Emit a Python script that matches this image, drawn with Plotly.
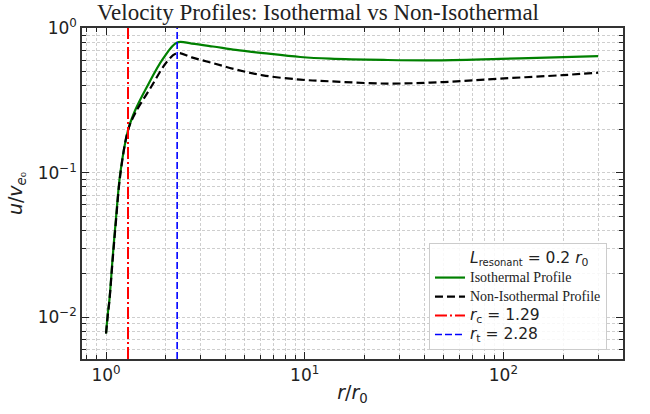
import numpy as np
import plotly.graph_objects as go

# ---- data ----
r_iso = [1.0, 1.02, 1.04, 1.08, 1.12, 1.18, 1.29, 1.40, 1.60, 1.94, 2.28,
         2.7, 3.45, 4.5, 6.17, 9.5, 13.4, 25, 44, 96, 200, 300]
u_iso = [0.0077, 0.0105, 0.0132, 0.026, 0.047, 0.10, 0.197, 0.27, 0.39, 0.62, 0.80,
         0.785, 0.75, 0.71, 0.675, 0.634, 0.617, 0.605, 0.601, 0.615, 0.632, 0.643]

r_non = [1.0, 1.02, 1.04, 1.08, 1.12, 1.18, 1.29, 1.40, 1.68, 2.03, 2.28,
         2.7, 3.45, 4.5, 6.17, 9.5, 13.4, 26, 50, 96, 200, 300]
u_non = [0.0077, 0.0102, 0.013, 0.025, 0.045, 0.097, 0.197, 0.258, 0.39, 0.59, 0.675,
         0.63, 0.575, 0.52, 0.473, 0.442, 0.43, 0.415, 0.425, 0.449, 0.475, 0.494]

r_c = 1.29
r_t = 2.28
L_res = 0.2

x_tickvals = [1, 10, 100]
x_ticktext = ["10<sup>0</sup>", "10<sup>1</sup>", "10<sup>2</sup>"]
y_tickvals = [0.01, 0.1, 1]
y_ticktext = ["10<sup>−2</sup>", "10<sup>−1</sup>", "10<sup>0</sup>"]

x_range = [-0.121, 2.602]
y_range = [-2.29, 0.003]

def minor_vals(lo, hi):
    out = []
    for d in range(int(np.floor(lo)) - 1, int(np.ceil(hi)) + 1):
        for k in range(2, 10):
            v = k * 10.0 ** d
            if lo <= np.log10(v) <= hi:
                out.append(v)
    return out

SERIF = "Liberation Serif"
SANS = "DejaVu Sans"

def sans(t, size=15.5):
    return f"<span style='font-family:{SANS};font-size:{size}px'>{t}</span>"

def serif(t, size=14):
    return f"<span style='font-family:{SERIF};font-size:{size}px'>{t}</span>"

fig = go.Figure()

fig.add_trace(go.Scatter(x=[None], y=[None], mode="lines",
                         line=dict(color="rgba(0,0,0,0)", width=2),
                         name=sans(f"<i>L</i><sub><span style='font-size:10px'>resonant</span></sub> = {L_res} <i>r</i><sub>0</sub>")))
fig.add_trace(go.Scatter(x=r_iso, y=u_iso, mode="lines", line_shape="spline",
                         line=dict(color="green", width=2.2),
                         name=serif("Isothermal Profile")))
fig.add_trace(go.Scatter(x=r_non, y=u_non, mode="lines", line_shape="spline",
                         line=dict(color="black", width=2.2, dash="8px,4px"),
                         name=serif("Non-Isothermal Profile")))
ylo, yhi = 10 ** y_range[0], 10 ** y_range[1]
fig.add_trace(go.Scatter(x=[r_c, r_c], y=[ylo, yhi], mode="lines",
                         line=dict(color="red", width=2, dash="12px,3px,2px,3px"),
                         name=sans(f"<i>r</i><sub>c</sub> = {r_c}")))
fig.add_trace(go.Scatter(x=[r_t, r_t], y=[ylo, yhi], mode="lines",
                         line=dict(color="blue", width=1.6, dash="7px,3px"),
                         name=sans(f"<i>r</i><sub>t</sub> = {r_t}")))

grid = "rgba(185,185,185,0.7)"
common = dict(type="log", showline=True, linecolor="#333", linewidth=1.5, mirror="allticks",
              ticks="inside", ticklen=7, tickwidth=1.3, tickcolor="#222",
              showgrid=True, gridcolor=grid, griddash="3px,2px", gridwidth=0.8,
              zeroline=False, automargin=False,
              tickfont=dict(family=SANS, size=17, color="#222"))

fig.update_xaxes(**common, range=x_range, tickvals=x_tickvals, ticktext=x_ticktext,
                 minor=dict(tickvals=minor_vals(*x_range), ticks="inside", ticklen=4,
                            tickcolor="#222", showgrid=True, gridcolor=grid,
                            griddash="3px,2px", gridwidth=0.8),
                 title=dict(text="<i>r</i>/<i>r</i><sub>0</sub>",
                            font=dict(family=SANS, size=19, color="#222"),
                            standoff=2))
fig.update_yaxes(**common, range=y_range, tickvals=y_tickvals, ticktext=y_ticktext,
                 minor=dict(tickvals=minor_vals(*y_range), ticks="inside", ticklen=4,
                            tickcolor="#222", showgrid=True, gridcolor=grid,
                            griddash="3px,2px", gridwidth=0.8),
                 title=dict(text="<i>u</i>/<i>v</i><sub><i>e</i>₀</sub>",
                            font=dict(family=SANS, size=19, color="#222"),
                            standoff=10))

fig.update_layout(
    width=650, height=414,
    margin=dict(l=82, r=27, t=28, b=55),
    paper_bgcolor="white", plot_bgcolor="white",
    title=dict(text="Velocity Profiles: Isothermal vs Non-Isothermal",
               font=dict(family=SERIF, size=23, color="#222"),
               x=318 / 650, xanchor="center", y=1 - 12 / 414, yanchor="middle"),
    legend=dict(x=0.9704, y=0.027, xanchor="right", yanchor="bottom",
                bgcolor="rgba(255,255,255,0.85)", bordercolor="#cccccc", borderwidth=1,
                font=dict(family=SANS, size=11, color="#222"),
                tracegroupgap=0, itemwidth=30),
    showlegend=True,
)

fig.write_html("out.html", config={"displayModeBar": False},
               post_script="document.body.style.margin='0';document.body.style.padding='0';")
